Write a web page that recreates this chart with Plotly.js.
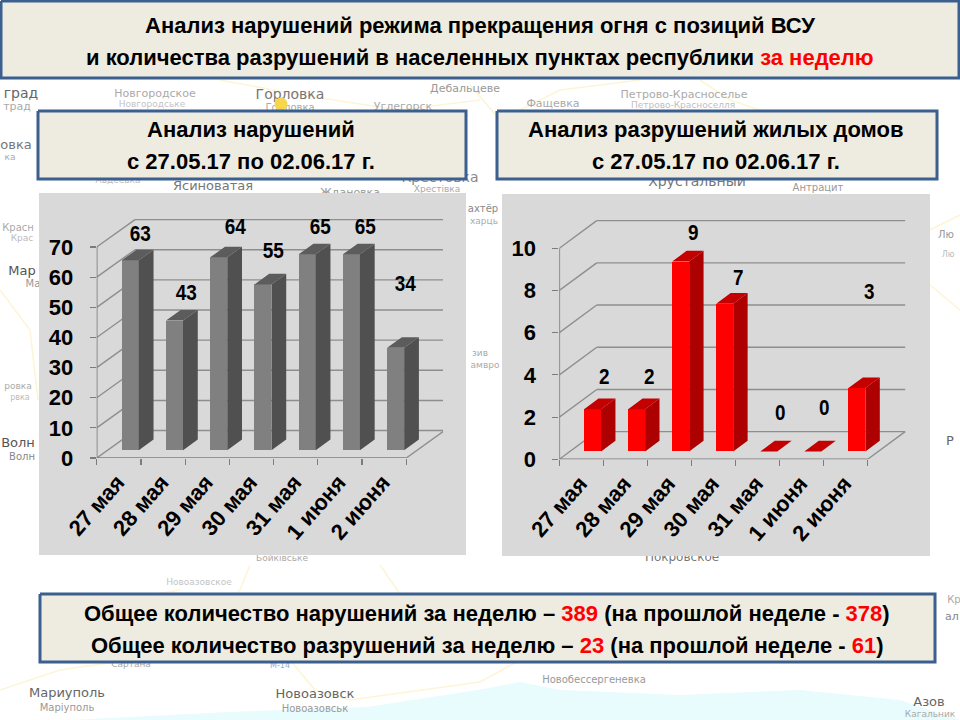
<!DOCTYPE html>
<html><head><meta charset="utf-8">
<script src="https://cdn.plot.ly/plotly-3.0.1.min.js"></script>
<style>html,body{margin:0;padding:0;background:#fff}#c{width:960px;height:720px}</style>
</head><body><div id="c"></div>
<script>
// ---- chart data ----
const days = ['27 мая','28 мая','29 мая','30 мая','31 мая','1 июня','2 июня'];
const violations = [63,43,64,55,65,65,34];
const destroyed = [2,2,9,7,0,0,3];
const violationTicks = [0,10,20,30,40,50,60,70];
const destroyedTicks = [0,2,4,6,8,10];
// value-label placement relative to the bar top, in pixels
const violationNudgeX = [10,11,17,10,13,14,10];
const violationNudgeY = [27,28,31,34,28,28,64];
const destroyedNudgeX = [11,12,12,13,11,11,12];
const destroyedNudgeY = [33,33,29,26,39,44,97];
// ---- faded base-map names ----
const mapNames = ['град','трад','Новгородское','Новгородське','Горловка','Горловка','Углегорск','Дебальцеве','Фащевка','Петрово-Красноселье','Петрово-Красноселля','овка','ка','Авдеевка','Ясиноватая','Ждановка','Хрестівка','Крестовка','Хрустальный','Антрацит','Красн','Крас','Мар','Ма','ровка','рвка','Волн','Волн','ахтёр','харць','зив','амвро','Лю','Лю','Р','Кр','ал','Бойківське','Покровское','Новоазовское','Сартана','M-14','Мариуполь','Маріуполь','Новоазовск','Новоазовськ','Новобессергеневка','Азов','Кагальник'];
const mapX = [21,17,155,152,290,290,403,465,553,684,683,16,10,118,213,350,437,440,697,818,18,22,22,33,18,20,18,22,483,484,480,485,946,948,950,954,952,282,682,199,131,280,67,67,315,315,594,929,930];
const mapY = [94,107,94,105,95,108,107,89,104,95,106,146,158,181,187,193,190,178,182,188,228,239,272,284,387,398,444,457,209,222,354,366,235,255,442,600,617,559,558,583,665,666,694,708,695,709,680,703,715];
const mapSize = [14,11,11,9,14,10,11,11,11,11,9,13,9,9,13,11,9,14,14,10,10,9,13,10,9,8,13,10,10,9,9,9,10,8,13,10,11,9,12,9,9,8,13,10,13,10,10,13,9];
const mapColor = ['#666','#aaa','#aaa','#c4c4c4','#777','#aaa','#aaa','#999','#aaa','#aaa','#c0c0c0','#777','#aaa','#bbb','#777','#999','#aaa','#888','#777','#999','#aaa','#bbb','#555','#999','#aaa','#bbb','#555','#888','#888','#aaa','#aaa','#aaa','#999','#bbb','#666','#aaa','#888','#aaa','#777','#c4c4c4','#aaa','#8fb0dd','#666','#999','#666','#999','#999','#666','#aaa'];

const FONT = '"Liberation Sans", Arial, sans-serif';
const BORDER = '#3b5f8e', BOX = '#eeece1', PANEL = '#d9d9d9', GRID = '#8e8e8e';

// bar box position inside a category and in the depth of the chart
const barLeft = 0.32, barWidth = 0.385, depthFront = 0.285, depthBack = 0.67;

function rect(x0,y0,x1,y1,fill,line,lw){
  return {type:'scatter',mode:line?'lines':'none',x:[x0,x1,x1,x0,x0],y:[y0,y0,y1,y1,y0],
    fill:'toself',fillcolor:fill,line:{color:line||fill,width:lw||0},hoverinfo:'skip',showlegend:false,xaxis:'x',yaxis:'y'};
}
function road(xs,ys){
  return {type:'scatter',mode:'lines',x:xs,y:ys,line:{color:'#fdf5d6',width:1.6},hoverinfo:'skip',showlegend:false,xaxis:'x',yaxis:'y'};
}

const traces = [
  {type:'scatter',mode:'none',x:[70,230,367,478,520,560,680,800,900,960,70],y:[720,712,707,690,682,690,695,690,700,720,720],fill:'toself',fillcolor:'#e8fbfd',hoverinfo:'skip',showlegend:false,xaxis:'x',yaxis:'y'},
  road([0,60,130,230],[690,670,660,640]), road([290,315,350,480,520],[660,690,700,682,660]),
  road([0,30,38],[290,330,400]), road([470,500,560,640],[85,120,90,80]), road([700,730,790,830],[80,100,120,180]),
  road([930,960],[285,310]), road([60,180],[610,590]), road([220,300,400,480],[80,95,110,100]),
  road([930,960],[230,215]), road([250,240,235],[565,590,594]), road([380,400],[565,594]),
  {type:'scatter',mode:'text',x:mapX,y:mapY,text:mapNames,textposition:'middle center',
    textfont:{family:'"DejaVu Sans", sans-serif',size:mapSize,color:mapColor},hoverinfo:'skip',showlegend:false,xaxis:'x',yaxis:'y'},
  {type:'scatter',mode:'markers',x:[281],y:[104],marker:{size:13,color:'#f6d64a',line:{width:0}},hoverinfo:'skip',showlegend:false,xaxis:'x',yaxis:'y'},
  rect(1,1,959,78,BOX,BORDER,3),
  rect(38,111,466,179,BOX,BORDER,3),
  rect(497,111,937,179,BOX,BORDER,3),
  rect(40,594,935,662,BOX,BORDER,3),
  rect(39,193,466,555,PANEL),
  rect(502,194,930,556,PANEL)
];
const shapes = [], annotations = [];

function addChart(n, values, ticks, nudgeX, nudgeY, wallX, wallY, front, side, top){
  const xa = 'x'+n, ya = 'y'+n, count = values.length;
  const seg = (x0,y0,x1,y1,c,w) => shapes.push({type:'line',xref:xa,yref:ya,x0,y0,x1,y1,layer:'below',line:{color:c||GRID,width:w||1.4}});
  // walls and floor
  for(const t of ticks){
    seg(wallX,t+wallY,count+wallX,t+wallY);
    seg(0,t,wallX,t+wallY);
  }
  seg(0,0,0,ticks[ticks.length-1],'#7c7c7c',1.6);
  seg(0,0,count,0,'#7c7c7c',1.6);
  seg(count,0,count+wallX,wallY);
  // faces derived from the values
  const fx = i => i+barLeft+depthFront*wallX;
  const y0 = depthFront*wallY, ddx = (depthBack-depthFront)*wallX, ddy = (depthBack-depthFront)*wallY;
  const sx=[],sy=[],tx=[],ty=[];
  values.forEach((v,i)=>{
    const l=fx(i), r=l+barWidth, h=y0+v;
    sx.push(r,r,r+ddx,r+ddx,r,null); sy.push(y0,h,h+ddy,y0+ddy,y0,null);
    tx.push(l,r,r+ddx,l+ddx,l,null); ty.push(h,h,h+ddy,h+ddy,h,null);
  });
  traces.push({type:'bar',x:values.map((v,i)=>fx(i)+barWidth/2),y:values,base:values.map(()=>y0),width:barWidth,
    marker:{color:front,line:{width:0}},hoverinfo:'skip',showlegend:false,xaxis:xa,yaxis:ya});
  traces.push({type:'scatter',mode:'none',x:sx,y:sy,fill:'toself',fillcolor:side,hoverinfo:'skip',showlegend:false,xaxis:xa,yaxis:ya});
  traces.push({type:'scatter',mode:'none',x:tx,y:ty,fill:'toself',fillcolor:top,hoverinfo:'skip',showlegend:false,xaxis:xa,yaxis:ya});
  values.forEach((v,i)=>annotations.push({xref:xa,yref:ya,x:fx(i)+barWidth/2,y:y0+v,xshift:nudgeX[i],yshift:nudgeY[i],
    text:String(v),showarrow:false,xanchor:'center',yanchor:'middle',font:{family:FONT,size:22,weight:700,color:'#000'}}));
}

addChart(2, violations, violationTicks, violationNudgeX, violationNudgeY, 0.866, 9.1, '#808080', '#505050', '#5c5c5c');
addChart(3, destroyed, destroyedTicks, destroyedNudgeX, destroyedNudgeY, 0.85, 1.31, '#ff0000', '#ad0000', '#c40000');

function xAxis(domL,domR,rng,anchor){
  return {domain:[domL/960,domR/960],range:[0,rng],anchor,showgrid:false,zeroline:false,showline:false,
    tickmode:'array',tickvals:days.map((d,i)=>i+0.47),ticktext:days,tickangle:-49,ticks:'',ticklabelstandoff:6,
    tickfont:{family:FONT,size:22,weight:700,color:'#000'},
    minor:{tickmode:'array',tickvals:days.map((d,i)=>i).concat([days.length]),ticks:'outside',ticklen:6,tickwidth:1.2,tickcolor:'#7c7c7c',showgrid:false},fixedrange:true};
}
function yAxis(top,bot,rng,anchor,tv){
  return {domain:[(720-bot)/720,(720-top)/720],range:[0,rng],anchor,showgrid:false,zeroline:false,showline:false,
    tickmode:'array',tickvals:tv,ticks:'outside',ticklen:6,tickwidth:1.2,tickcolor:'#7c7c7c',ticklabelstandoff:12,
    tickfont:{family:FONT,size:22,weight:700,color:'#000'},fixedrange:true};
}
const RED='#ff0000';
const red = s => '<span style="color:'+RED+'">'+s+'</span>';
[
 ['Анализ нарушений режима прекращения огня с позиций ВСУ',480,25],
 ['и количества разрушений в населенных пунктах республики '+red('за неделю'),480,57],
 ['Анализ нарушений',251,129],
 ['с 27.05.17 по 02.06.17 г.',251,161],
 ['Анализ разрушений жилых домов',716,129],
 ['с 27.05.17 по 02.06.17 г.',716,161],
 ['Общее количество нарушений за неделю – '+red('389')+' (на прошлой неделе - '+red('378')+')',487,613],
 ['Общее количество разрушений за неделю – '+red('23')+' (на прошлой неделе - '+red('61')+')',487,645]
].forEach(([t,x,y])=>annotations.push({xref:'x',yref:'y',x,y,text:t,showarrow:false,xanchor:'center',yanchor:'middle',
  font:{family:FONT,size:22,weight:700,color:'#000'}}));

const layout = {
  width:960,height:720,margin:{l:0,r:0,t:0,b:0},paper_bgcolor:'#ffffff',plot_bgcolor:'rgba(0,0,0,0)',showlegend:false,
  xaxis:{domain:[0,1],range:[0,960],visible:false,fixedrange:true},
  yaxis:{domain:[0,1],range:[720,0],visible:false,fixedrange:true},
  xaxis2:xAxis(96.7,443,7.83,'y2'),
  yaxis2:yAxis(219,458,79.3,'x2',violationTicks),
  xaxis3:xAxis(559.3,906.7,7.885,'y3'),
  yaxis3:yAxis(220,459.3,11.34,'x3',destroyedTicks),
  bargap:0,barmode:'overlay',shapes,annotations,font:{family:FONT}
};
// the reference's chart numerals are horizontally condensed
function condense(nodes,k){
  nodes.forEach(t=>{
    t.setAttribute('textLength',(t.getComputedTextLength()*k).toFixed(1));
    t.setAttribute('lengthAdjust','spacingAndGlyphs');
  });
}
Plotly.newPlot('c',traces,layout,{displayModeBar:false,staticPlot:true}).then(()=>{
  condense([...document.querySelectorAll('.xtick text')],0.86);
  condense([...document.querySelectorAll('.ytick text')],0.84);
  condense([...document.querySelectorAll('.annotation-text')].filter(t=>/^\d+$/.test(t.textContent)),0.86);
});
</script></body></html>
